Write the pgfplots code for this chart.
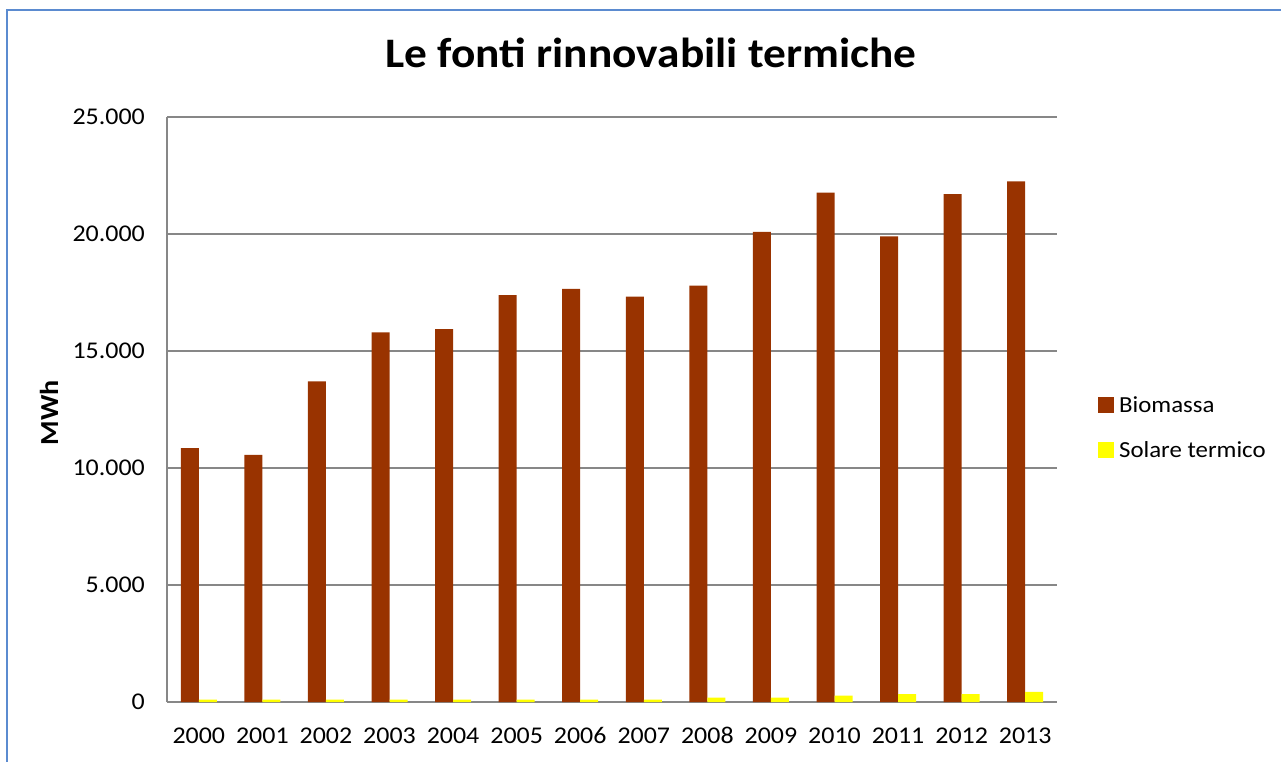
\documentclass[border=0pt]{standalone}
\usepackage{pgfplots}
\pgfplotsset{compat=1.18}
\usepackage{fontspec}
\setmainfont{Carlito}[FakeStretch=1.08]
\definecolor{bio}{HTML}{993300}
\definecolor{sol}{HTML}{FFFF00}
\definecolor{gridc}{HTML}{878787}
\definecolor{framec}{HTML}{5B8BD0}
\begin{document}
\begin{tikzpicture}[x=1pt,y=1pt]
\path[use as bounding box] (0,0) rectangle (1281,-762);
\draw[framec, line width=1.6pt] (7,-764) -- (7,-10) -- (1283,-10);
\begin{axis}[
  at={(167pt,-702pt)}, anchor=south west,
  width=890pt, height=585pt, scale only axis,
  xmin=-0.5, xmax=13.5, ymin=0, ymax=25000,
  ybar=0pt, bar width=18pt,
  axis lines=left,
  axis line style={draw=gridc, line width=1.5pt, -},
  ymajorgrids, grid style={draw=gridc, line width=1.5pt},
  major tick length=0pt,
  ytick={0,5000,10000,15000,20000,25000},
  xtick={0,...,13},
  xticklabels={2000,2001,2002,2003,2004,2005,2006,2007,2008,2009,2010,2011,2012,2013},
  scaled y ticks=false,
  /pgf/number format/.cd, 1000 sep={.}, assume math mode=true,
  /pgfplots/.cd,
  tick label style={font=\fontsize{24}{24}\selectfont, inner sep=0pt},
  yticklabel style={anchor=east, xshift=-22pt},
  xticklabel style={anchor=base, yshift=-41pt},
  legend style={draw=none, fill=none, at={(1.046,0.523)}, anchor=north west,
    font=\fontsize{23}{23}\selectfont, inner sep=0pt, column sep=5pt, row sep=28pt,
    nodes={inner sep=0pt}},
  legend cell align=left,
]
\addplot[fill=bio, draw=none, legend image code/.code={\fill[bio] (0pt,-8pt) rectangle (16pt,8pt);}]
 coordinates {(0,10850) (1,10560) (2,13700) (3,15800) (4,15940) (5,17390) (6,17650) (7,17320) (8,17790) (9,20090) (10,21770) (11,19900) (12,21700) (13,22250)};
\addplot[fill=sol, draw=none, legend image code/.code={\fill[sol] (0pt,-8pt) rectangle (16pt,8pt);}]
 coordinates {(0,100) (1,100) (2,100) (3,100) (4,100) (5,100) (6,100) (7,100) (8,185) (9,185) (10,270) (11,340) (12,340) (13,430)};
\legend{Biomassa, Solare termico}
\end{axis}
\node[anchor=base, inner sep=0pt, font=\fontsize{42}{42}\selectfont\bfseries] at (651,-68) {Le fonti rinnovabili termiche};
\node[rotate=90, inner sep=0pt, font=\fontsize{26}{26}\selectfont\bfseries] at (49,-413) {MWh};
\end{tikzpicture}
\end{document}
